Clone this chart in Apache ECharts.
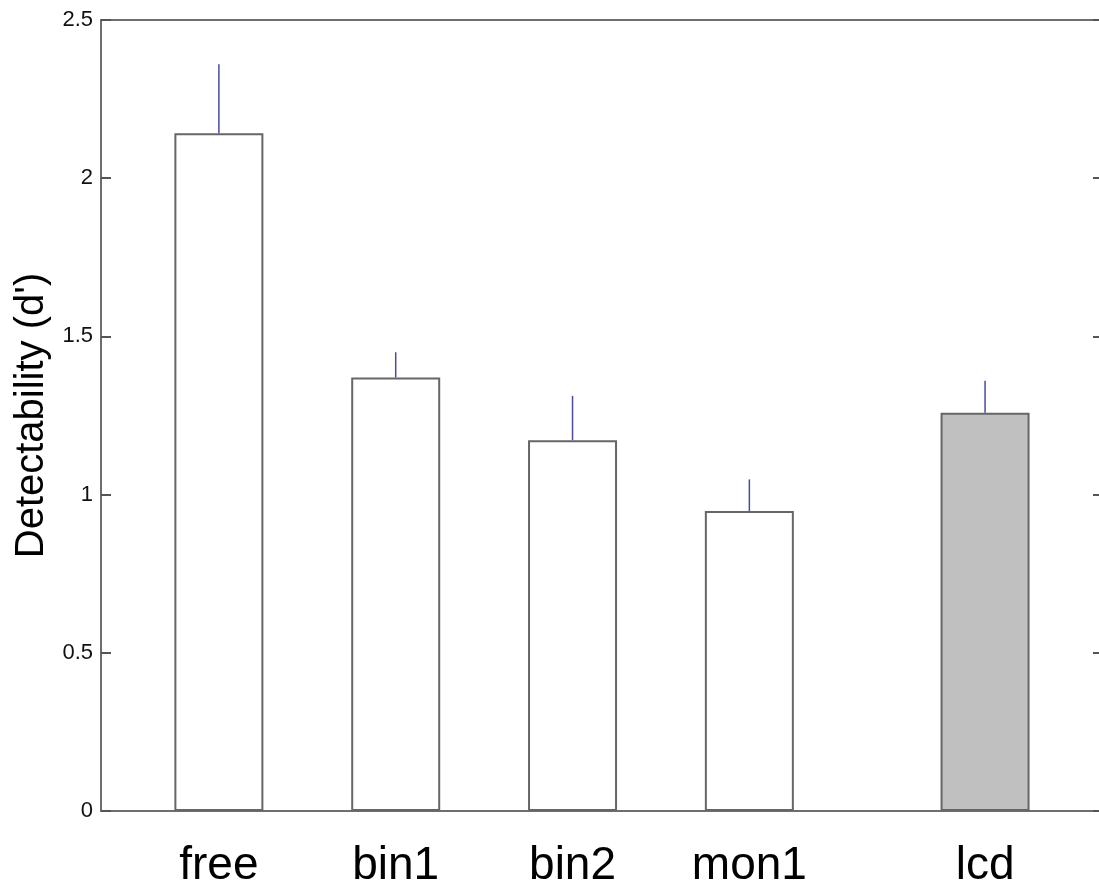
<!DOCTYPE html>
<html>
<head>
<meta charset="utf-8">
<script src="https://cdn.jsdelivr.net/npm/echarts@6/dist/echarts.min.js"></script>
<style>
html,body{margin:0;padding:0;background:#fff;}
#chart{width:1099px;height:890px;}
</style>
</head>
<body>
<div id="chart"></div>
<script>
const categories = ['free', 'bin1', 'bin2', 'mon1', 'lcd'];
const positions = [1, 2, 3, 4, 5.333];
const means = [2.142, 1.370, 1.172, 0.948, 1.259];
const errorTops = [2.360, 1.450, 1.312, 1.048, 1.360];
const yTickLabels = ['0', '0.5', '1', '1.5', '2', '2.5'];

const barData = positions.map((p, i) => [p, means[i]]);
const errData = positions.map((p, i) => [p, means[i], errorTops[i]]);

const chart = echarts.init(document.getElementById('chart'));
const axisGray = '#6e6e6e';
chart.setOption({
  animation: false,
  backgroundColor: '#ffffff',
  grid: { left: 101, top: 20, width: 1002, height: 791, containLabel: false, outerBoundsMode: 'none' },
  xAxis: [{
    type: 'value', min: 0.3333, max: 6, position: 'bottom',
    splitLine: { show: false },
    axisLine: { show: true, onZero: false, lineStyle: { color: axisGray, width: 2 } },
    axisTick: { show: false },
    axisLabel: {
      customValues: positions,
      margin: 32,
      fontSize: 46,
      fontFamily: 'Liberation Sans, Arial, sans-serif',
      color: '#000',
      formatter: function (v) {
        let best = 0, d = Infinity;
        positions.forEach((p, i) => { if (Math.abs(p - v) < d) { d = Math.abs(p - v); best = i; } });
        return categories[best];
      }
    }
  }, {
    type: 'value', min: 0.3333, max: 6, position: 'top',
    splitLine: { show: false },
    axisLine: { show: true, onZero: false, lineStyle: { color: axisGray, width: 2 } },
    axisTick: { show: false }, axisLabel: { show: false }
  }],
  yAxis: [{
    type: 'value', min: 0, max: 2.5, interval: 0.5, position: 'left',
    name: "Detectability (d')",
    nameLocation: 'middle',
    nameGap: 45,
    nameTextStyle: { fontSize: 40, fontFamily: 'Liberation Sans, Arial, sans-serif', color: '#000' },
    splitLine: { show: false },
    axisLine: { show: true, onZero: false, lineStyle: { color: axisGray, width: 2 } },
    axisTick: { show: true, inside: true, length: 10, lineStyle: { color: '#555', width: 2 } },
    axisLabel: {
      margin: 8, fontSize: 22, fontFamily: 'Liberation Sans, Arial, sans-serif', color: '#111',
      formatter: function (v) { return yTickLabels[Math.round(v / 0.5)]; }
    },
    z: 5
  }, {
    type: 'value', min: 0, max: 2.5, interval: 0.5, position: 'right',
    splitLine: { show: false },
    axisLine: { show: true, onZero: false, lineStyle: { color: axisGray, width: 2 } },
    axisTick: { show: true, inside: true, length: 10, lineStyle: { color: '#555', width: 2 } },
    axisLabel: { show: false },
    z: 5
  }],
  series: [{
    type: 'bar',
    xAxisIndex: 0, yAxisIndex: 0,
    barWidth: 89,
    data: barData,
    itemStyle: {
      color: function (p) { return p.dataIndex === 4 ? '#c0c0c0' : '#ffffff'; },
      borderColor: '#666666',
      borderWidth: 2
    },
    z: 2
  }, {
    type: 'custom',
    xAxisIndex: 0, yAxisIndex: 0,
    data: errData,
    z: 3,
    renderItem: function (params, api) {
      const a = api.coord([api.value(0), api.value(1)]);
      const b = api.coord([api.value(0), api.value(2)]);
      return {
        type: 'line',
        shape: { x1: a[0], y1: a[1], x2: b[0], y2: b[1] },
        style: { stroke: '#4a4aa0', lineWidth: 1.5 }
      };
    }
  }]
});
</script>
</body>
</html>
